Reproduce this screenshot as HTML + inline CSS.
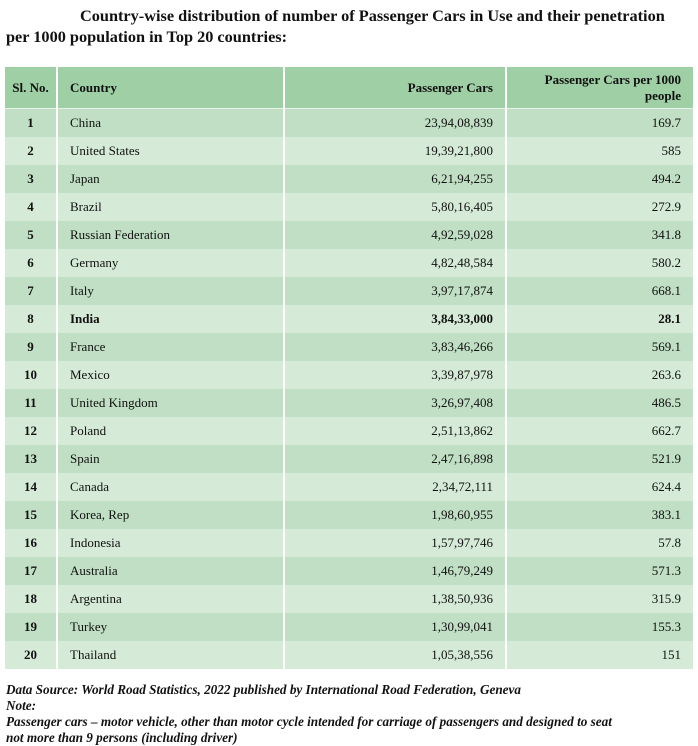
<!DOCTYPE html>
<html><head><meta charset="utf-8"><style>
body{margin:0;width:698px;height:746px;background:#fff;font-family:"Liberation Serif",serif;color:#111;position:relative;overflow:hidden}
.t{position:absolute;left:6px;top:5px;width:675px;font-weight:bold;font-size:16.3px;line-height:21px;text-indent:74px}
table{position:absolute;left:5px;top:67px;width:688px;border-collapse:collapse;font-size:13px;table-layout:fixed}
td,th{border-left:2px solid #fff;padding:0 12px;height:28px;white-space:nowrap}
td:first-child,th:first-child{border-left:none;padding:0}
th{background:#9fcfa5;height:41px;font-weight:bold;border-bottom:1px solid #e6f2e7}
tr:nth-child(even) td{background:#c0dfc4}
tr:nth-child(odd) td{background:#d5ebd7}
.c{text-align:center;font-weight:bold}
.l{text-align:left}
.r{text-align:right}
.n{position:absolute;left:6px;top:682px;font-weight:bold;font-style:italic;font-size:13.2px;line-height:16px}
</style></head><body>
<div class="t">Country-wise distribution of number of Passenger Cars in Use and their penetration<br>per 1000 population in Top 20 countries:</div>
<table>
<colgroup><col style="width:52px"><col style="width:227px"><col style="width:222px"><col></colgroup>
<tr><th class="c">Sl. No.</th><th class="l">Country</th><th class="r">Passenger Cars</th><th class="r" style="white-space:normal">Passenger Cars per 1000<br>people</th></tr>
<tr><td class="c">1</td><td>China</td><td class="r">23,94,08,839</td><td class="r">169.7</td></tr>
<tr><td class="c">2</td><td>United States</td><td class="r">19,39,21,800</td><td class="r">585</td></tr>
<tr><td class="c">3</td><td>Japan</td><td class="r">6,21,94,255</td><td class="r">494.2</td></tr>
<tr><td class="c">4</td><td>Brazil</td><td class="r">5,80,16,405</td><td class="r">272.9</td></tr>
<tr><td class="c">5</td><td>Russian Federation</td><td class="r">4,92,59,028</td><td class="r">341.8</td></tr>
<tr><td class="c">6</td><td>Germany</td><td class="r">4,82,48,584</td><td class="r">580.2</td></tr>
<tr><td class="c">7</td><td>Italy</td><td class="r">3,97,17,874</td><td class="r">668.1</td></tr>
<tr style="font-weight:bold"><td class="c">8</td><td>India</td><td class="r">3,84,33,000</td><td class="r">28.1</td></tr>
<tr><td class="c">9</td><td>France</td><td class="r">3,83,46,266</td><td class="r">569.1</td></tr>
<tr><td class="c">10</td><td>Mexico</td><td class="r">3,39,87,978</td><td class="r">263.6</td></tr>
<tr><td class="c">11</td><td>United Kingdom</td><td class="r">3,26,97,408</td><td class="r">486.5</td></tr>
<tr><td class="c">12</td><td>Poland</td><td class="r">2,51,13,862</td><td class="r">662.7</td></tr>
<tr><td class="c">13</td><td>Spain</td><td class="r">2,47,16,898</td><td class="r">521.9</td></tr>
<tr><td class="c">14</td><td>Canada</td><td class="r">2,34,72,111</td><td class="r">624.4</td></tr>
<tr><td class="c">15</td><td>Korea, Rep</td><td class="r">1,98,60,955</td><td class="r">383.1</td></tr>
<tr><td class="c">16</td><td>Indonesia</td><td class="r">1,57,97,746</td><td class="r">57.8</td></tr>
<tr><td class="c">17</td><td>Australia</td><td class="r">1,46,79,249</td><td class="r">571.3</td></tr>
<tr><td class="c">18</td><td>Argentina</td><td class="r">1,38,50,936</td><td class="r">315.9</td></tr>
<tr><td class="c">19</td><td>Turkey</td><td class="r">1,30,99,041</td><td class="r">155.3</td></tr>
<tr><td class="c">20</td><td>Thailand</td><td class="r">1,05,38,556</td><td class="r">151</td></tr>
</table>
<div class="n">Data Source: World Road Statistics, 2022 published by International Road Federation, Geneva<br>Note:<br>Passenger cars – motor vehicle, other than motor cycle intended for carriage of passengers and designed to seat<br>not more than 9 persons (including driver)</div>
</body></html>
